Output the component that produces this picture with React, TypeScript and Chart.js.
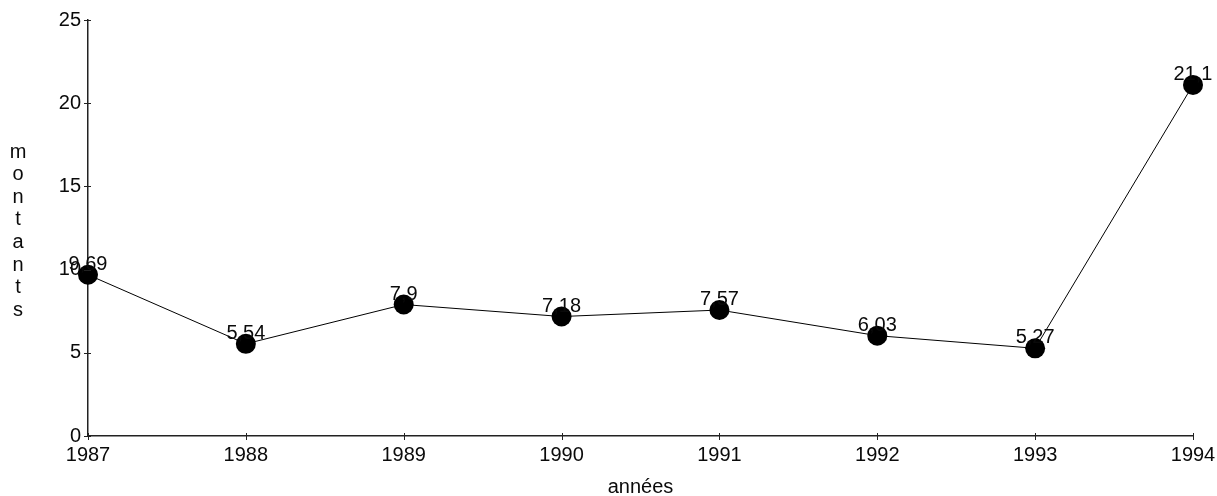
import React, { useEffect, useRef } from "react";
import { Chart, registerables } from "chart.js";

Chart.register(...registerables);

const years = ["1987", "1988", "1989", "1990", "1991", "1992", "1993", "1994"];
const amounts = [9.69, 5.54, 7.9, 7.18, 7.57, 6.03, 5.27, 21.1];
const valueLabels = ["9,69", "5,54", "7,9", "7,18", "7,57", "6,03", "5,27", "21,1"];
const yTickValues = [0, 5, 10, 15, 20, 25];
const yTitle = "montants";
const xTitle = "années";

const FONT_FAMILY = '"Liberation Sans", Arial, sans-serif';
const INK = "#0a0a0a";

const decorPlugin = {
  id: "decor",
  afterDraw(chart: any) {
    const ctx = chart.ctx as CanvasRenderingContext2D;
    const area = chart.chartArea;
    const xs = chart.scales.x;
    const ys = chart.scales.y;
    ctx.save();
    ctx.strokeStyle = "#222";
    ctx.lineWidth = 1;
    // cross tick marks on y axis
    yTickValues.forEach((v) => {
      const py = Math.round(ys.getPixelForValue(v)) + 0.5;
      ctx.beginPath();
      ctx.moveTo(area.left - 4, py);
      ctx.lineTo(area.left + 3, py);
      ctx.stroke();
    });
    // cross tick marks on x axis
    years.forEach((_, i) => {
      const px = Math.round(xs.getPixelForValue(i)) + 0.5;
      ctx.beginPath();
      ctx.moveTo(px, area.bottom - 3);
      ctx.lineTo(px, area.bottom + 4);
      ctx.stroke();
    });
    // value labels
    ctx.fillStyle = INK;
    ctx.font = `20px ${FONT_FAMILY}`;
    ctx.textAlign = "center";
    ctx.textBaseline = "alphabetic";
    const meta = chart.getDatasetMeta(0);
    meta.data.forEach((pt: any, i: number) => {
      ctx.fillText(valueLabels[i], pt.x, pt.y - 5);
    });
    // y title, stacked letters
    ctx.textBaseline = "middle";
    ctx.font = `20px ${FONT_FAMILY}`;
    Array.from(yTitle).forEach((ch, i) => {
      ctx.fillText(ch, 18, 152 + i * 22.6);
    });
    // x title
    ctx.font = `20px ${FONT_FAMILY}`;
    ctx.fillText(xTitle, (area.left + area.right) / 2, 487);
    ctx.restore();
  },
};

export default function App() {
  const canvasRef = useRef<HTMLCanvasElement | null>(null);

  useEffect(() => {
    if (!canvasRef.current) return;
    const chart = new Chart(canvasRef.current, {
      type: "line",
      data: {
        labels: years,
        datasets: [
          {
            data: amounts,
            borderColor: "#000",
            borderWidth: 1,
            backgroundColor: "#000",
            pointBackgroundColor: "#000",
            pointBorderColor: "#000",
            pointRadius: 10,
            pointBorderWidth: 0,
            tension: 0,
            clip: false as any,
          },
        ],
      },
      options: {
        animation: false,
        responsive: false,
        layout: { padding: { top: 20, right: 24, left: 0, bottom: 0 } },
        plugins: {
          legend: { display: false },
          tooltip: { enabled: false },
          title: { display: false },
        },
        scales: {
          x: {
            type: "category",
            offset: false,
            grid: { display: false, drawTicks: false },
            border: { display: true, color: "#222", width: 1.5 },
            ticks: {
              color: INK,
              font: { family: FONT_FAMILY, size: 20 },
              padding: 7,
              maxRotation: 0,
              autoSkip: false,
            },
            afterFit: (s: any) => {
              s.height = 60;
              s.paddingLeft = 0;
              s.paddingRight = 0;
            },
          },
          y: {
            type: "linear",
            min: 0,
            max: 25,
            afterBuildTicks: (s: any) => {
              s.ticks = yTickValues.map((v) => ({ value: v }));
            },
            grid: { display: false, drawTicks: false },
            border: { display: true, color: "#222", width: 1.5 },
            ticks: {
              color: INK,
              font: { family: FONT_FAMILY, size: 20 },
              padding: 7,
            },
            afterFit: (s: any) => {
              s.width = 88;
              s.paddingTop = 0;
              s.paddingBottom = 0;
            },
          },
        },
      },
      plugins: [decorPlugin],
    });
    return () => chart.destroy();
  }, []);

  return (
    <div style={{ position: "absolute", left: 0, top: 0, width: 1217, height: 496, background: "#fff" }}>
      <canvas ref={canvasRef} width={1217} height={496} style={{ display: "block" }} />
    </div>
  );
}
